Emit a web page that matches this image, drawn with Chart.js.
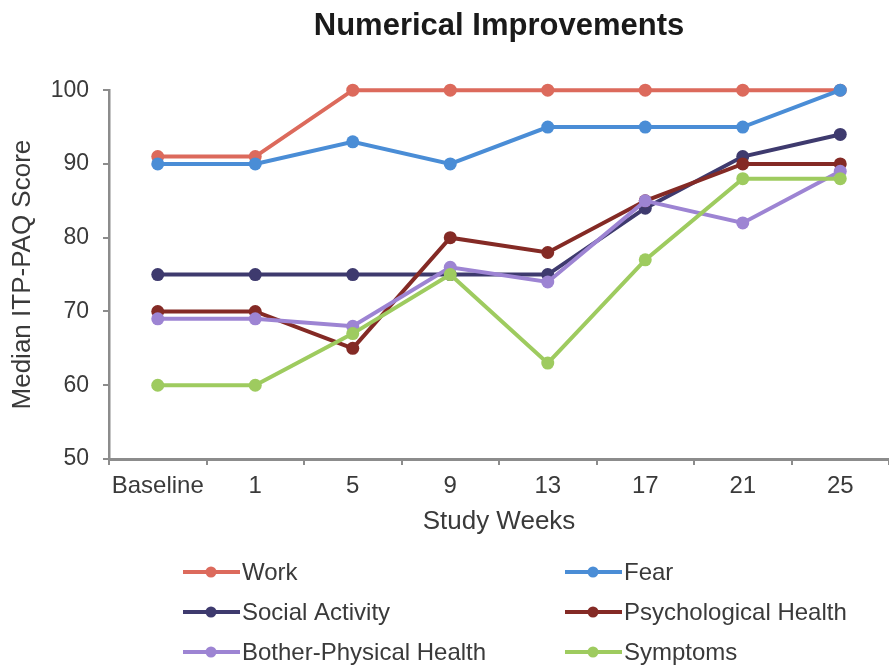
<!DOCTYPE html>
<html>
<head>
<meta charset="utf-8">
<script src="https://cdn.jsdelivr.net/npm/chart.js@4"></script>
<style>
  html, body { margin: 0; padding: 0; background: #ffffff; }
  #wrap { width: 889px; height: 665px; }
</style>
</head>
<body>
<div id="wrap"><canvas id="chart" width="889" height="665"></canvas></div>
<script>
// Study time points (x axis categories)
const weeks = ['Baseline', '1', '5', '9', '13', '17', '21', '25'];

// Median ITP-PAQ domain scores at each time point
const work                 = [91, 91, 100, 100, 100, 100, 100, 100];
const fear                 = [90, 90, 93, 90, 95, 95, 95, 100];
const socialActivity       = [75, 75, 75, 75, 75, 84, 91, 94];
const psychologicalHealth  = [70, 70, 65, 80, 78, 85, 90, 90];
const botherPhysicalHealth = [69, 69, 68, 76, 74, 85, 82, 89];
const symptoms             = [60, 60, 67, 75, 63, 77, 88, 88];

// Y axis tick values
const scoreTicks = [50, 60, 70, 80, 90, 100];

const FONT = '"Liberation Sans", Arial, sans-serif';
const TEXT = '#3a3a3a';
const AXIS = '#8c8c8c';

const series = [
  { label: 'Work',                   data: work,                 color: '#dc6a5c' },
  { label: 'Fear',                   data: fear,                 color: '#4a8dd6' },
  { label: 'Social Activity',        data: socialActivity,       color: '#3e3a6e' },
  { label: 'Psychological Health',   data: psychologicalHealth,  color: '#842a25' },
  { label: 'Bother-Physical Health', data: botherPhysicalHealth, color: '#9d84d3' },
  { label: 'Symptoms',               data: symptoms,             color: '#9ecb5f' }
];

// Two-column legend drawn under the axis title
const gridLegend = {
  id: 'gridLegend',
  afterDraw(chart) {
    const ctx = chart.ctx;
    const cols = [183, 565];
    const rows = [572, 612, 652];
    chart.data.datasets.forEach((ds, i) => {
      const x = cols[i % 2];
      const y = rows[Math.floor(i / 2)];
      ctx.save();
      ctx.strokeStyle = ds.borderColor;
      ctx.lineWidth = 4;
      ctx.beginPath();
      ctx.moveTo(x, y);
      ctx.lineTo(x + 57, y);
      ctx.stroke();
      ctx.fillStyle = ds.borderColor;
      ctx.beginPath();
      ctx.arc(x + 28, y, 5.5, 0, Math.PI * 2);
      ctx.fill();
      ctx.fillStyle = TEXT;
      ctx.font = '24px ' + FONT;
      ctx.textBaseline = 'middle';
      ctx.textAlign = 'left';
      ctx.fillText(ds.label, x + 59, y + 1);
      ctx.restore();
    });
  }
};

new Chart(document.getElementById('chart'), {
  type: 'line',
  data: {
    labels: weeks,
    datasets: series.map((s, i) => ({
      label: s.label,
      data: s.data,
      borderColor: s.color,
      backgroundColor: s.color,
      pointBackgroundColor: s.color,
      pointBorderColor: s.color,
      pointBorderWidth: 0,
      pointRadius: 6.5,
      borderWidth: 4,
      tension: 0,
      fill: false,
      clip: false,
      order: series.length - i
    }))
  },
  options: {
    responsive: false,
    animation: false,
    devicePixelRatio: 1,
    layout: { autoPadding: false, padding: { top: 0, right: 0, bottom: 128, left: 0 } },
    plugins: {
      legend: { display: false },
      tooltip: { enabled: false },
      title: {
        display: true,
        text: 'Numerical Improvements',
        fullSize: false,
        color: '#1a1a1a',
        font: { family: FONT, size: 31, weight: 'bold' },
        padding: { top: 8, bottom: 45 }
      }
    },
    scales: {
      x: {
        type: 'category',
        offset: true,
        grid: { display: true, drawOnChartArea: false, offset: true, tickLength: 6, color: AXIS, lineWidth: 2 },
        border: { display: true, color: AXIS, width: 3 },
        ticks: { color: TEXT, font: { family: FONT, size: 24 }, padding: 7, maxRotation: 0, autoSkip: false },
        title: { display: true, text: 'Study Weeks', color: TEXT, font: { family: FONT, size: 26 }, padding: { top: 0, bottom: 0 } },
        afterFit(scale) {
          scale.height = 78;
          scale.paddingLeft = 0;
          scale.paddingRight = 0;
        }
      },
      y: {
        min: 50,
        max: 100,
        afterBuildTicks(scale) { scale.ticks = scoreTicks.map(v => ({ value: v })); },
        grid: { display: true, drawOnChartArea: false, tickLength: 6, color: AXIS, lineWidth: 2 },
        border: { display: true, color: AXIS, width: 2.5 },
        ticks: { color: TEXT, font: { family: FONT, size: 23 }, padding: 14 },
        title: { display: true, text: 'Median ITP-PAQ Score', color: TEXT, font: { family: FONT, size: 26 }, padding: { top: 7, bottom: 0 } },
        afterFit(scale) { scale.width = 109; }
      }
    }
  },
  plugins: [gridLegend]
});
</script>
</body>
</html>
